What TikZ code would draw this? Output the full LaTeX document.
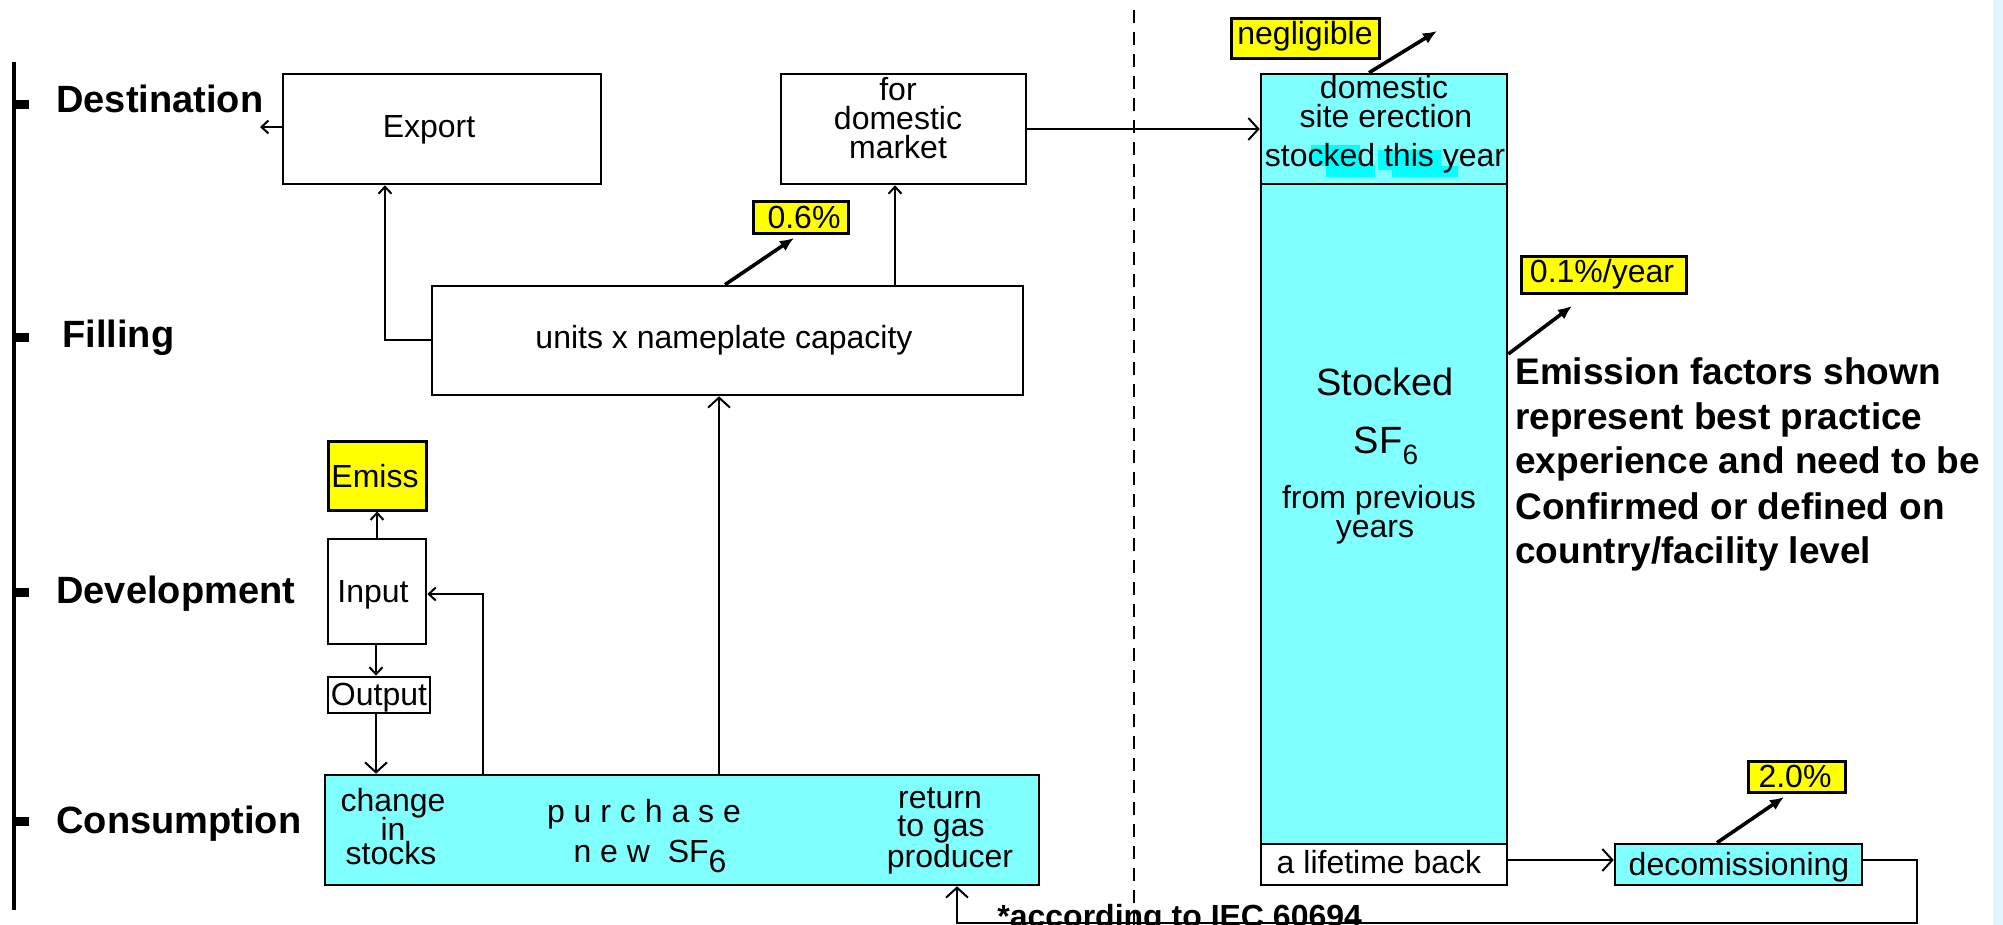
\documentclass[tikz,border=0pt]{standalone}
\usepackage{fontspec}
\setmainfont{Liberation Sans}
\usetikzlibrary{arrows.meta}
\definecolor{cyanbox}{HTML}{80FFFF}
\definecolor{aqua}{HTML}{00FFFF}
\definecolor{yel}{HTML}{FFFF00}
\definecolor{strip}{HTML}{E3F5FD}
\begin{document}
\begin{tikzpicture}[x=0.5pt,y=-0.5pt,
  box/.style={draw=black, line width=1.3pt, inner sep=0pt, anchor=center},
  cbox/.style={box, fill=cyanbox},
  ybox/.style={box, fill=yel, line width=1.5pt},
  txt/.style={inner sep=0pt, anchor=base, font=\fontsize{16}{18}\selectfont},
  lbl/.style={inner sep=0pt, anchor=base west, font=\fontsize{19}{22}\selectfont\bfseries},
  note/.style={inner sep=0pt, anchor=base west, font=\fontsize{18.5}{22}\selectfont\bfseries},
  conn/.style={line width=1pt, line join=miter, -{Straight Barb[length=5pt,width=11pt,line width=1pt]}},
  sconn/.style={line width=1pt, -{Straight Barb[length=3.5pt,width=6.5pt,line width=1pt]}},
  emis/.style={line width=1.8pt, -{Latex[length=7pt,width=6pt]}},
]
\useasboundingbox (0,0) rectangle (2003,925);
\clip (0,0) rectangle (2003,925);
\fill[white] (0,0) rectangle (2003,925);
\fill[strip] (1993,0) rectangle (2003,925);

% axis
\draw[line width=1.6pt] (14,62) -- (14,910);
\fill (14,100) rectangle (29,109);
\fill (14,333) rectangle (29,342);
\fill (14,588) rectangle (29,597);
\fill (14,817) rectangle (29,826);
\node[lbl] (lDest) at (56,113) {Destination};
\node[lbl] (lFill) at (62,348) {Filling};
\node[lbl] (lDev) at (56,603) {Development};
\node[lbl] (lCons) at (56,833) {Consumption};

% dashed separator
\draw[line width=1pt, dash pattern=on 6.5pt off 4.5pt] (1134,10) -- (1134,925);

% boxes
\node[box, minimum width=159pt, minimum height=55pt] (exp) at (442,129) {};
\node[box, minimum width=122.5pt, minimum height=55pt] (dm) at (903.5,129) {};
\node[box, minimum width=295.5pt, minimum height=54.5pt] (fill) at (727.5,340.5) {};
\node[ybox, minimum width=49pt, minimum height=34.5pt] (emiss) at (377,475.5) {};
\node[box, minimum width=49pt, minimum height=52.5pt] (inp) at (377,591.5) {};
\node[box, minimum width=51pt, minimum height=18pt] (out) at (379,695) {};
\node[cbox, minimum width=357pt, minimum height=55pt] (pur) at (682,830) {};
\node[cbox, minimum width=123pt, minimum height=55pt] (st) at (1384,129) {};
\node[cbox, minimum width=123pt, minimum height=330pt] (sm) at (1384,514) {};
\node[box, fill=white, minimum width=123pt, minimum height=20.5pt] (lt) at (1384,864.5) {};
\node[cbox, minimum width=123.5pt, minimum height=20.5pt] (dec) at (1738.5,864.5) {};
\node[ybox, minimum width=74pt, minimum height=20pt] (neg) at (1305,39) {};
\node[ybox, minimum width=47.5pt, minimum height=16pt] (p06) at (800.5,218) {};
\node[ybox, minimum width=82.5pt, minimum height=18.5pt] (p01) at (1603.5,275.5) {};
\node[ybox, minimum width=48.5pt, minimum height=15.5pt] (p20) at (1796.5,776.5) {};

% highlight behind "stocked this year"
\fill[aqua] (1311,145) rectangle (1360,166);
\fill[aqua] (1326,164) rectangle (1375,177);
\fill[aqua] (1378,150) rectangle (1441,170);
\fill[aqua] (1392,166) rectangle (1458,177);

% texts
\node[txt] (tExp) at (429,138) {Export};
\node[txt] (tFor) at (898,101) {for};
\node[txt] (tDom) at (898,130) {domestic};
\node[txt] (tMkt) at (898,159) {market};
\node[txt] (tUnits) at (724,349) {units x nameplate capacity};
\node[txt] (t06) at (804,229) {0.6\%};
\node[txt] (tEmiss) at (375,487) {Emiss};
\node[txt] (tInp) at (373,602) {Input};
\node[txt] (tOut) at (379,705) {Output};
\node[txt] (tCh1) at (393,811) {change};
\node[txt] (tCh2) at (393,840) {in};
\node[txt] (tCh3) at (391,864) {stocks};
\node[txt] (tPur1) at (644,822) {p u r c h a s e};
\node[txt] (tPur2) at (650,862) {n e w\ \ SF\raisebox{-5pt}{6}};
\node[txt] (tRet1) at (940,808) {return};
\node[txt] (tRet2) at (941,836) {to gas};
\node[txt] (tRet3) at (950,867) {producer};
\node[txt] (tSt1) at (1384,99) {domestic};
\node[txt] (tSt2) at (1386,128) {site erection};
\node[txt] (tSt3) at (1385,167) {stocked this year};
\node[txt, font=\fontsize{19}{22}\selectfont] (tStk) at (1385,395) {Stocked};
\node[txt, font=\fontsize{19}{22}\selectfont] (tSF) at (1386,453) {SF\raisebox{-5.5pt}{\fontsize{14}{16}\selectfont 6}};
\node[txt] (tFr1) at (1379,508) {from previous};
\node[txt] (tFr2) at (1375,537) {years};
\node[txt] (tLt) at (1379,873) {a lifetime back};
\node[txt] (tDec) at (1739,875) {decomissioning};
\node[txt] (tNeg) at (1305,45) {negligible};
\node[txt] (t01) at (1602,283) {0.1\%/year};
\node[txt] (t20) at (1795,787) {2.0\%};

\node[note] (n1) at (1515,384) {Emission factors shown};
\node[note] (n2) at (1515,429) {represent best practice};
\node[note] (n3) at (1515,473) {experience and need to be};
\node[note] (n4) at (1515,519) {Confirmed or defined on};
\node[note] (n5) at (1515,563) {country/facility level};
\node[inner sep=0pt, anchor=base west, font=\fontsize{16}{18}\selectfont\bfseries] (foot) at (997,927) {*according to IEC 60694};

% connectors
\coordinate (expL) at (260,127);
\draw[sconn] (exp.west |- expL) -- (expL);
\coordinate (xe) at (385,0);
\draw[sconn] (fill.west) -| (exp.south -| xe);
\coordinate (xd) at (895,0);
\draw[sconn] (fill.north -| xd) -- (dm.south -| xd);
\draw[conn] (dm.east) -- (st.west);
\coordinate (xf) at (719,0);
\draw[conn] (pur.north -| xf) -- (fill.south -| xf);
\coordinate (xi) at (483,0);
\coordinate (yi) at (0,594);
\draw[sconn] (pur.north -| xi) |- (inp.east |- yi);
\draw[sconn] (inp.north) -- (emiss.south);
\coordinate (xo) at (376,0);
\draw[sconn] (inp.south -| xo) -- (out.north -| xo);
\draw[conn] (out.south -| xo) -- (pur.north -| xo);
\coordinate (yl) at (0,860);
\draw[conn] (lt.east |- yl) -- (dec.west |- yl);
\coordinate (b1) at (1917,923);
\coordinate (b2) at (957,923);
\draw[conn, line width=1.4pt] (dec.east |- yl) -| (b1) -- (b2) -- (pur.south -| b2);

% emission arrows
\coordinate (x6) at (725,0);
\coordinate (e1) at (794,238);
\draw[emis] (fill.north -| x6) -- (e1);
\coordinate (x7) at (1369,0);
\coordinate (e2) at (1437,31);
\draw[emis] (st.north -| x7) -- (e2);
\coordinate (y3) at (0,354);
\coordinate (e3) at (1572,306);
\draw[emis] (sm.east |- y3) -- (e3);
\coordinate (x8) at (1717,0);
\coordinate (e4) at (1784,797);
\draw[emis] (dec.north -| x8) -- (e4);
\end{tikzpicture}
\end{document}
